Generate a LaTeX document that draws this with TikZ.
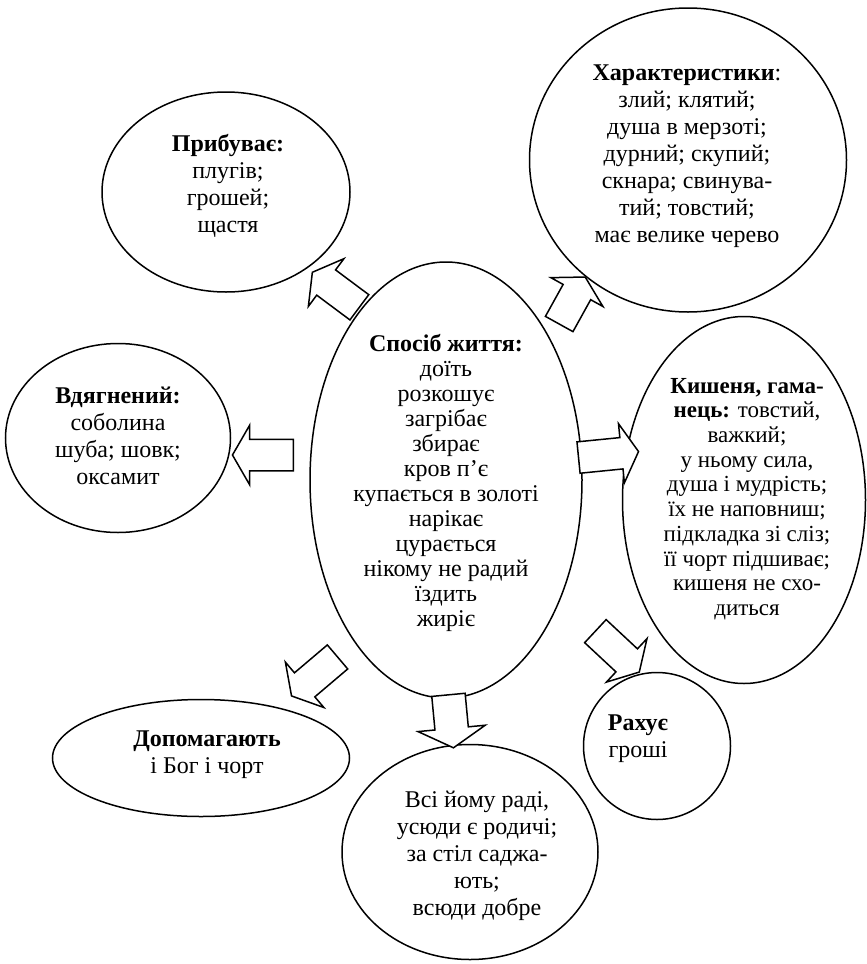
\documentclass[tikz,border=0pt]{standalone}
\usepackage{fontspec}
\setmainfont{Liberation Serif}
\usetikzlibrary{shapes.geometric,shapes.arrows}

\begin{document}
\begin{tikzpicture}[x=1pt,y=-1pt]
	\tikzstyle{bubble}=[draw, ellipse, line width=1.5pt, inner sep=0pt]
	\tikzstyle{txt}=[align=center, inner sep=0pt, font=\fontsize{24}{27}\selectfont]
	\tikzstyle{txttight}=[txt, font=\fontsize{24}{25}\selectfont]
	\tikzstyle{blk}=[draw, fill=white, line width=1.5pt, single arrow, inner xsep=0pt, inner ysep=15pt, single arrow head extend=14pt, single arrow tip angle=120]
	\useasboundingbox (0,0) rectangle (867,964);
	% ellipses
	\draw (226,192) node[bubble, minimum width=248pt, minimum height=200pt] (prybuv) {};
	\draw (688,160) node[bubble, minimum width=317pt, minimum height=304pt] (kharakt) {};
	\draw (446,480) node[bubble, minimum width=272pt, minimum height=436pt] (sposib) {};
	\draw (744,500) node[bubble, minimum width=243pt, minimum height=367pt] (kyshen) {};
	\draw (118,438) node[bubble, minimum width=225pt, minimum height=189pt] (vdiah) {};
	\draw (201,758) node[bubble, minimum width=297pt, minimum height=117pt] (dopom) {};
	\draw (470,852) node[bubble, minimum width=256pt, minimum height=215pt] (vsi) {};
	\draw (657,746) node[bubble, minimum width=147pt, minimum height=147pt] (rakh) {};
	% texts
	\draw (228,186) node[txt] (prybuv-t) {\textbf{Прибуває:}\\плугів;\\грошей;\\щастя};
	\draw (687,156) node[txt] (kharakt-t) {\textbf{Характеристики}:\\злий; клятий;\\душа в мерзоті;\\дурний; скупий;\\скнара; свинува-\\тий; товстий;\\має велике черево};
	\draw (446,483) node[txttight] (sposib-t) {\textbf{Спосіб життя:}\\доїть\\розкошує\\загрібає\\збирає\\кров п’є\\купається в золоті\\нарікає\\цурається\\нікому не радий\\їздить\\жиріє};
	\draw (747,499) node[txttight, font=\fontsize{23}{24.7}\selectfont] (kyshen-t) {\textbf{Кишеня, гама-}\\\textbf{нець:} товстий,\\важкий;\\у ньому сила,\\душа і мудрість;\\їх не наповниш;\\підкладка зі сліз;\\її чорт підшиває;\\кишеня не схо-\\диться};
	\draw (118,436) node[txt] (vdiah-t) {\textbf{Вдягнений:}\\соболина\\шуба; шовк;\\оксамит};
	\draw (207,755) node[txt] (dopom-t) {\textbf{Допомагають}\\і Бог і чорт};
	\draw (477,856) node[txt] (vsi-t) {Всі йому раді,\\усюди є родичі;\\за стіл саджа-\\ють;\\всюди добре};
	\draw (638,739) node[txt] (rakh-t) {\textbf{Рахує}\\гроші};
	% block arrows
	\draw (339.5,292.5) node[blk, rotate=143.3, minimum height=58.6pt] (a-prybuv) {};
	\draw (570,304.5) node[blk, rotate=61, minimum height=53.7pt] (a-kharakt) {};
	\draw (604,455) node[blk, rotate=5.7, minimum height=60.3pt] (a-kyshen) {};
	\draw (267.5,455) node[blk, rotate=180, minimum height=61pt] (a-vdiah) {};
	\draw (318,673.5) node[blk, rotate=220.3, minimum height=60.3pt] (a-dopom) {};
	\draw (450.5,716.5) node[blk, rotate=-84.6, minimum height=53.2pt, inner ysep=16pt, single arrow head extend=17pt] (a-vsi) {};
	\draw (614,648.5) node[blk, rotate=-43, minimum height=60pt] (a-rakh) {};
\end{tikzpicture}
\end{document}
